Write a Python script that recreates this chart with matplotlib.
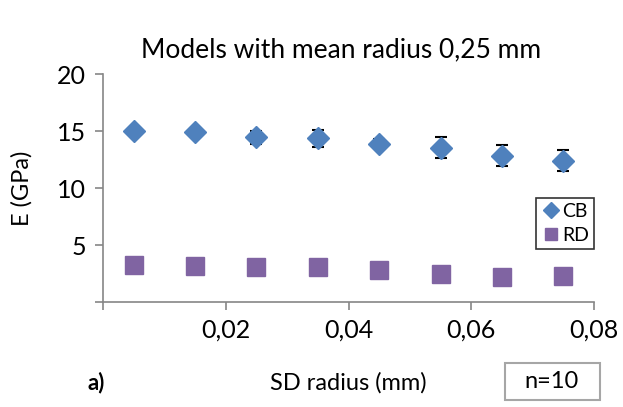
import matplotlib.pyplot as plt
from matplotlib.patches import Rectangle

plt.rcParams['font.family'] = ['Lato', 'DejaVu Sans']

# SD of the radius (mm)
sd_radius = [0.005, 0.015, 0.025, 0.035, 0.045, 0.055, 0.065, 0.075]

# Young's modulus E (GPa) per model type
cb_mean = [15.0, 14.9, 14.45, 14.35, 13.9, 13.55, 12.85, 12.4]
cb_err = [0.1, 0.1, 0.55, 0.72, 0.4, 0.9, 0.92, 0.93]
rd_mean = [3.25, 3.2, 3.1, 3.07, 2.78, 2.43, 2.22, 2.28]

fig = plt.figure(figsize=(6.23, 4.07), dpi=100)
ax = fig.add_axes([0.1653, 0.258, 0.7882, 0.56])

ax.errorbar(sd_radius, cb_mean, yerr=cb_err, fmt='none', ecolor='black',
            elinewidth=1.5, capsize=4.5, capthick=1.5, zorder=2)
ax.plot(sd_radius, cb_mean, linestyle='none', marker='D', markersize=11,
        color='#4F81BD', label='CB', zorder=3)
ax.plot(sd_radius, rd_mean, linestyle='none', marker='s', markersize=13,
        color='#8064A2', label='RD', zorder=3)

ax.set_xlim(0, 0.08)
ax.set_ylim(0, 20)
ax.set_xticks([0, 0.02, 0.04, 0.06, 0.08])
ax.set_xticklabels(['', '0,02', '0,04', '0,06', '0,08'])
ax.set_yticks([0, 5, 10, 15, 20])
ax.set_yticklabels(['', '5', '10', '15', '20'])

for side in ['top', 'right']:
    ax.spines[side].set_visible(False)
for side in ['left', 'bottom']:
    ax.spines[side].set_color('#868686')
    ax.spines[side].set_linewidth(1.2)
ax.tick_params(colors='#868686', labelcolor='black', labelsize=18,
               length=6, width=1.2, direction='out', pad=6)

ax.set_title('Models with mean radius 0,25 mm', fontsize=19, pad=12, x=0.485)
ax.set_xlabel('SD radius (mm)', fontsize=17, labelpad=22)
ax.set_ylabel('E (GPa)', fontsize=17, labelpad=18)

leg = ax.legend(loc='upper left', bbox_to_anchor=(536 / 623, 1 - 198 / 407),
                bbox_transform=fig.transFigure, fontsize=14, frameon=True,
                fancybox=False, edgecolor='black', handletextpad=0.1,
                handlelength=1.0, borderpad=0.25, labelspacing=0.35,
                markerscale=0.7, borderaxespad=0)
leg.get_frame().set_linewidth(1.2)

fig.text(88 / 623, 1 - 383 / 407, 'a)', fontsize=16, fontweight='bold',
         va='center', ha='left')

# sample-size box in the lower right corner
fig.patches.append(Rectangle((505 / 623, 7 / 407), 95 / 623, 37 / 407,
                             transform=fig.transFigure, facecolor='white',
                             edgecolor='#A6A6A6', linewidth=1.5))
fig.text(552 / 623, 1 - 382 / 407, 'n=10', fontsize=17, va='center',
         ha='center')

fig.savefig('out.png', dpi=100)
